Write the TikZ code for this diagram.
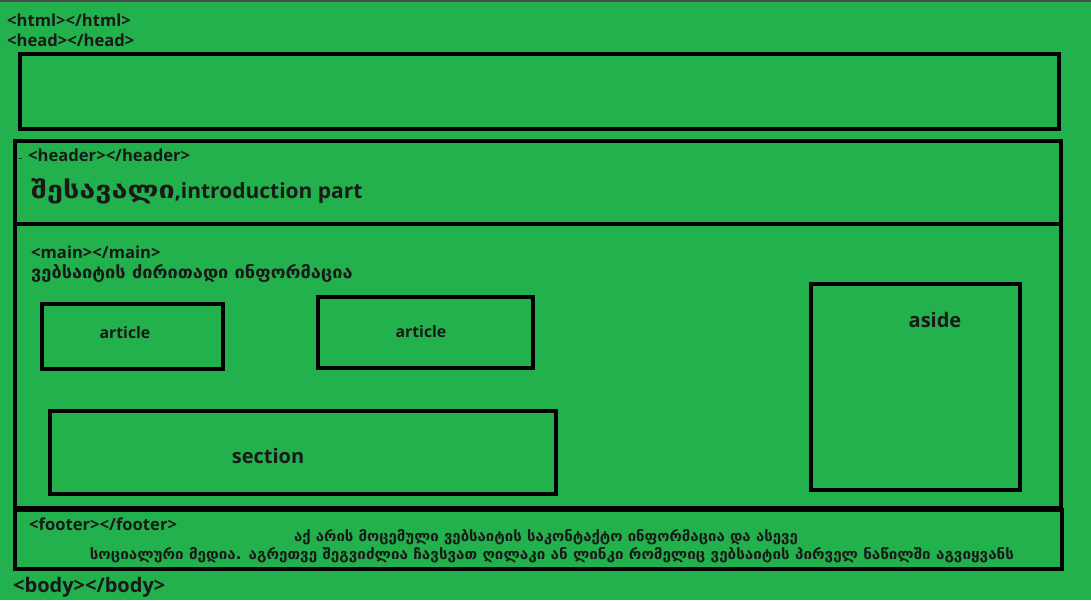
\documentclass[tikz,border=0pt]{standalone}
\usepackage{fontspec}
\setmainfont{Open Sans}
\newfontfamily\geo{DejaVu Sans}
\definecolor{pg}{HTML}{22B14C}
\newcommand{\gx}[2]{\scalebox{#1}[1]{#2}}
\begin{document}
\begin{tikzpicture}[x=1pt,y=-1pt,
  box/.style={draw=black, line width=4pt, anchor=north west, inner sep=0pt, outer sep=0pt},
  tag/.style={inner sep=0pt, anchor=west, text=black!90, font=\bfseries\fontsize{16.6}{18}\selectfont},
  big/.style={inner sep=0pt, anchor=west, text=black!90, font=\bfseries\fontsize{21}{24}\selectfont},
  geoline/.style={inner sep=0pt, text=black!90, font=\geo\bfseries\fontsize{14.5}{17}\selectfont},
  captxt/.style={inner sep=0pt, text=black!90, font=\bfseries\fontsize{20}{22}\selectfont},
  smtxt/.style={inner sep=0pt, text=black!90, font=\bfseries\fontsize{15.8}{18}\selectfont}]
\fill[pg] (0,0) rectangle (1091,600);
\useasboundingbox (0,0) rectangle (1091,600);
\draw[black!70, line width=1.5pt] (0,0.75) -- (1091,0.75);
% boxes
\node[box, minimum width=1039pt, minimum height=75pt] (headbox) at (20,53.5) {};
\node[box, minimum width=1046pt, minimum height=82.5pt] (header) at (15,141) {};
\node[box, minimum width=1046pt, minimum height=284.5pt] (main) at (15,223.5) {};
\node[box, minimum width=1047pt, minimum height=59pt] (footer) at (15,510) {};
\node[box, minimum width=181pt, minimum height=65pt] (art1) at (42,304) {};
\node[box, minimum width=215pt, minimum height=71pt] (art2) at (318,297) {};
\node[box, minimum width=506pt, minimum height=83pt] (section) at (50,411) {};
\node[box, minimum width=209pt, minimum height=206pt] (aside) at (811,284) {};
% labels
\node[tag] (thtml) at (7,20) {<html></html>};
\node[tag] (thead) at (7,40) {<head></head>};
\node[tag] (theader) at (28,155) {<header></header>};
\draw[black!85, line width=0.8pt] (19,158) -- (22,158);
\node[big] (intro) at (31,191) {\gx{1.2}{\geo\fontsize{24}{26}\selectfont შესავალი},introduction part};
\node[tag] (tmain) at (31,252) {<main></main>};
\node[geoline, anchor=west, font=\geo\bfseries\fontsize{17}{19}\selectfont] (maininfo) at (31,273) {\gx{1.07}{ვებსაიტის ძირითადი ინფორმაცია}};
\node[tag] (tfooter) at (29,524) {<footer></footer>};
\node[geoline] (f1) at (546,537) {\gx{1.032}{აქ არის მოცემული ვებსაიტის საკონტაქტო ინფორმაცია და ასევე}};
\node[geoline] (f2) at (552,555) {\gx{1.05}{სოციალური მედია. აგრეთვე შეგვიძლია ჩავსვათ ღილაკი ან ლინკი რომელიც ვებსაიტის პირველ ნაწილში აგვიყვანს}};
\node[tag, font=\bfseries\fontsize{20}{22}\selectfont] (tbody) at (13,587) {<body></body>};
\node[smtxt] (a1) at (125,333) {article};
\node[smtxt] (a2) at (421,332) {article};
\node[captxt] (sec) at (268,456) {section};
\node[captxt] (as) at (935,320) {aside};
\end{tikzpicture}
\end{document}
